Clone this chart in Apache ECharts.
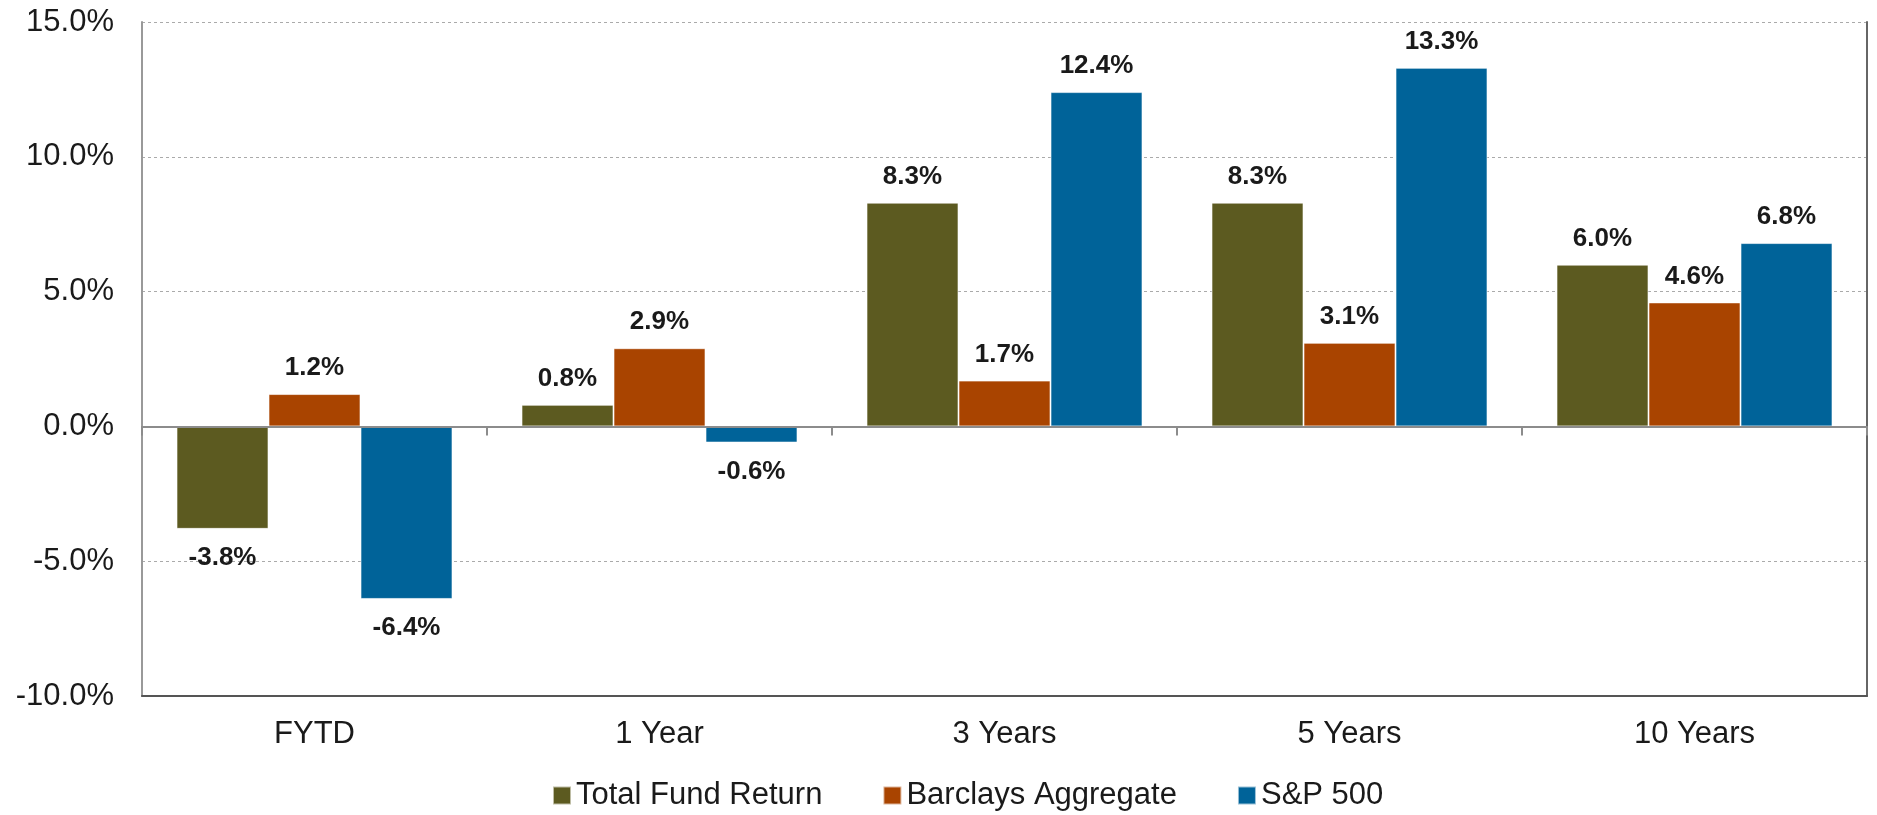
<!DOCTYPE html>
<html>
<head>
<meta charset="utf-8">
<script src="https://cdn.jsdelivr.net/npm/echarts@6/dist/echarts.min.js"></script>
<style>
  html, body { margin: 0; padding: 0; background: #fff; }
  #chart { width: 1877px; height: 815px; }
</style>
</head>
<body>
<div id="chart"></div>
<script>
const categories = ['FYTD', '1 Year', '3 Years', '5 Years', '10 Years']
const totalFund = [-3.8, 0.8, 8.3, 8.3, 6.0]
const barclays = [1.2, 2.9, 1.7, 3.1, 4.6]
const sp500 = [-6.4, -0.6, 12.4, 13.3, 6.8]
const seriesNames = ['Total Fund Return', 'Barclays Aggregate', 'S&P 500']
const colors = ['#5c5a20', '#a94400', '#006399']

const chart = echarts.init(document.getElementById('chart'))

const labelFont = 'Liberation Sans, Arial, sans-serif'

// negative values get their label under the bar
const makeBar = (name, data, color) => ({
  name,
  type: 'bar',
  data: data.map(v => v < 0
    ? { value: v, label: { position: 'bottom', distance: 16 } }
    : v),
  barGap: '0%',
  barCategoryGap: '20%',
  itemStyle: { color, borderColor: 'rgba(255,255,255,0.6)', borderWidth: 1 },
  label: {
    show: true,
    position: 'top',
    distance: 13,
    fontSize: 26,
    fontWeight: 'bold',
    fontFamily: labelFont,
    color: '#1a1a1a',
    formatter: p => Number(p.value).toFixed(1) + '%',
  },
})

const option = {
  animation: false,
  color: colors,
  grid: { left: 142, right: 10, top: 22, bottom: 119 },
  legend: {
    left: 547,
    top: 775,
    itemWidth: 18,
    itemHeight: 18,
    itemGap: 60,
    icon: 'rect',
    textStyle: { fontSize: 31, fontFamily: labelFont, color: '#1a1a1a', padding: [0, 0, 0, 0] },
    data: seriesNames,
  },
  xAxis: [
    {
      type: 'category',
      data: categories,
      position: 'bottom',
      axisLine: { onZero: false, lineStyle: { color: '#555', width: 2 } },
      axisTick: { show: false },
      axisLabel: { fontSize: 31, fontFamily: labelFont, color: '#1a1a1a', margin: 23 },
    },
    {
      type: 'category',
      data: categories,
      position: 'bottom',
      axisLine: { onZero: true, lineStyle: { color: '#8c8c8c', width: 2 } },
      axisTick: { show: true, length: 9, lineStyle: { color: '#8c8c8c', width: 2 } },
      axisLabel: { show: false },
      z: 5,
    },
  ],
  yAxis: [
    {
      type: 'value',
      min: -10,
      max: 15,
      interval: 5,
      axisLine: { show: true, lineStyle: { color: '#999', width: 2 } },
      axisTick: { show: false },
      axisLabel: {
        fontSize: 31,
        fontFamily: labelFont,
        color: '#1a1a1a',
        margin: 28,
        formatter: v => v.toFixed(1) + '%',
      },
      splitLine: { show: true, lineStyle: { color: '#aaa', type: [3, 3], width: 1 } },
    },
    {
      type: 'value',
      min: -10,
      max: 15,
      interval: 5,
      position: 'right',
      axisLine: { show: true, lineStyle: { color: '#666', width: 2 } },
      axisTick: { show: false },
      axisLabel: { show: false },
      splitLine: { show: false },
    },
  ],
  series: [
    makeBar(seriesNames[0], totalFund, colors[0]),
    makeBar(seriesNames[1], barclays, colors[1]),
    makeBar(seriesNames[2], sp500, colors[2]),
  ],
}

chart.setOption(option)
window.addEventListener('resize', () => chart.resize())
</script>
</body>
</html>
